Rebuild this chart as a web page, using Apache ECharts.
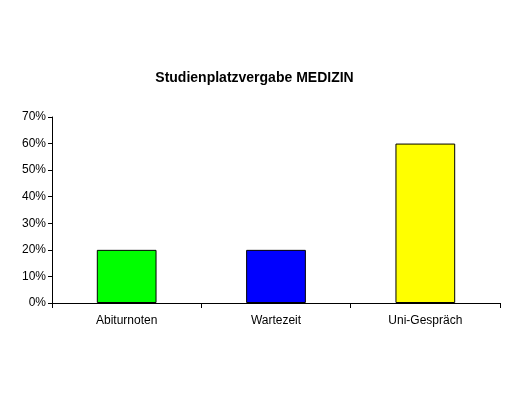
<!DOCTYPE html>
<html>
<head>
<meta charset="utf-8">
<script src="https://cdn.jsdelivr.net/npm/echarts@6/dist/echarts.min.js"></script>
<style>html,body{margin:0;padding:0;background:#fff}#chart{width:509px;height:400px}</style>
</head>
<body>
<div id="chart"></div>
<script>
var categories = ['Abiturnoten', 'Wartezeit', 'Uni-Gespräch'];
var values = [20, 20, 60];
var barColors = ['#00ff00', '#0000ff', '#ffff00'];

var chart = echarts.init(document.getElementById('chart'));
chart.setOption({
    animation: false,
    title: {
        text: 'Studienplatzvergabe MEDIZIN',
        left: 'center',
        top: 66,
        textStyle: { fontFamily: 'Liberation Sans', fontSize: 14, fontWeight: 'bold', color: '#000' }
    },
    grid: { left: 52, right: 9, top: 117, bottom: 97 },
    xAxis: {
        type: 'category',
        data: categories,
        axisLine: { lineStyle: { color: '#000' } },
        axisTick: { show: true, lineStyle: { color: '#000' }, length: 5 },
        axisLabel: { color: '#000', fontFamily: 'Liberation Sans', fontSize: 12, margin: 12 }
    },
    yAxis: {
        type: 'value',
        min: 0,
        max: 70,
        interval: 10,
        axisLine: { show: true, lineStyle: { color: '#000' } },
        axisTick: { show: true, lineStyle: { color: '#000' }, length: 4 },
        splitLine: { show: false },
        axisLabel: { color: '#000', fontFamily: 'Liberation Sans', fontSize: 12, formatter: '{value}%', margin: 6 }
    },
    series: [{
        type: 'bar',
        barWidth: '40%',
        data: values.map(function (v, i) {
            return { value: v, itemStyle: { color: barColors[i], borderColor: '#000', borderWidth: 1 } };
        })
    }]
});
</script>
</body>
</html>
